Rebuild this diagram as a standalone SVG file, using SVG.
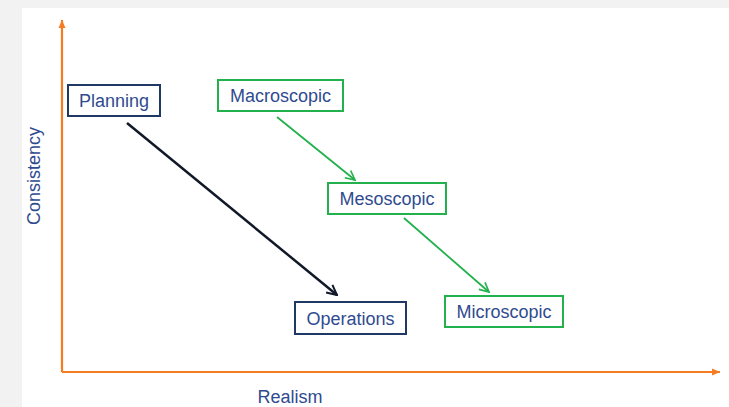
<svg xmlns="http://www.w3.org/2000/svg" width="729" height="407" viewBox="0 0 729 407">
<style>
text{font-family:"Liberation Sans",Arial,sans-serif;font-size:18px;fill:#2f4b8f;}
.nb{fill:#fff;stroke:#1f3864;stroke-width:2}
.gb{fill:#fff;stroke:#22b14c;stroke-width:2}
.ax{stroke:#f47b20;stroke-width:2.2;fill:none}
.bk{stroke:#111827;stroke-width:2.5;fill:none}
.gr{stroke:#22b14c;stroke-width:1.8;fill:none}
</style>
<defs>
<marker id="ahb" viewBox="0 0 10 10" refX="9" refY="5" markerWidth="5" markerHeight="5" orient="auto" markerUnits="strokeWidth"><path d="M1,1 L9,5 L1,9" fill="none" stroke="#111827" stroke-width="1.6"/></marker>
<marker id="ahg" viewBox="0 0 10 10" refX="9" refY="5" markerWidth="6.5" markerHeight="6.5" orient="auto" markerUnits="strokeWidth"><path d="M1,1 L9,5 L1,9" fill="none" stroke="#22b14c" stroke-width="1.4"/></marker>
<marker id="aho" viewBox="0 0 10 10" refX="9" refY="5" markerWidth="4" markerHeight="4" orient="auto" markerUnits="strokeWidth"><path d="M0,1 L9,5 L0,9 Z" fill="#f47b20"/></marker>
</defs>
<rect x="0" y="0" width="729" height="407" fill="#f2f2f2"/>
<rect x="22" y="8" width="707" height="399" fill="#fff"/>
<g id="axes">
<line class="ax" x1="62" y1="372" x2="62" y2="20" marker-end="url(#aho)"/>
<line class="ax" x1="62" y1="372" x2="720" y2="372" marker-end="url(#aho)"/>
<text x="290" y="403" text-anchor="middle">Realism</text>
<text transform="translate(40,176) rotate(-90)" text-anchor="middle">Consistency</text>
</g>
<g id="connectors">
<line class="bk" x1="127" y1="123" x2="337" y2="295" marker-end="url(#ahb)"/>
<line class="gr" x1="277" y1="117" x2="355" y2="180" marker-end="url(#ahg)"/>
<line class="gr" x1="404" y1="218" x2="489" y2="292" marker-end="url(#ahg)"/>
</g>
<g id="planning"><rect class="nb" x="68" y="85" width="92" height="31"/><text x="114" y="107" text-anchor="middle">Planning</text></g>
<g id="macroscopic"><rect class="gb" x="218" y="80" width="125" height="31"/><text x="280.5" y="102" text-anchor="middle">Macroscopic</text></g>
<g id="mesoscopic"><rect class="gb" x="328" y="183" width="118" height="31"/><text x="387" y="205" text-anchor="middle">Mesoscopic</text></g>
<g id="operations"><rect class="nb" x="295" y="302" width="111" height="32"/><text x="350.5" y="325" text-anchor="middle">Operations</text></g>
<g id="microscopic"><rect class="gb" x="445" y="296" width="118" height="31"/><text x="504" y="318" text-anchor="middle">Microscopic</text></g>
</svg>
